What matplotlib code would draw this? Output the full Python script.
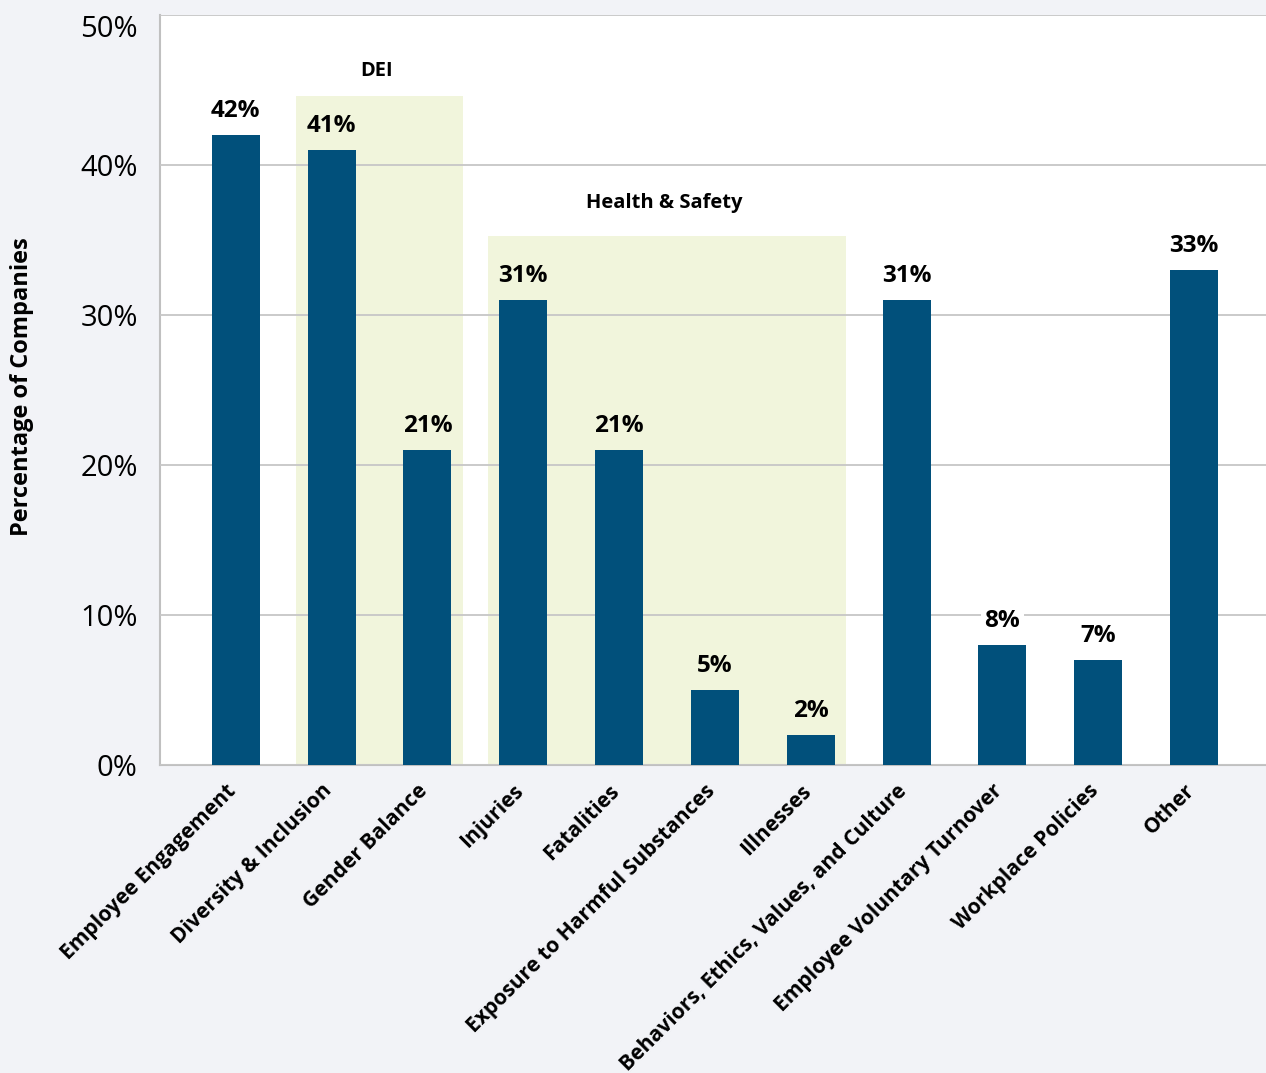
import matplotlib.pyplot as plt
import matplotlib.transforms as mtransforms
import numpy as np

plt.rcParams['font.family'] = ['Open Sans', 'DejaVu Sans']

categories = ['Employee Engagement', 'Diversity & Inclusion', 'Gender Balance',
              'Injuries', 'Fatalities', 'Exposure to Harmful Substances',
              'Illnesses', 'Behaviors, Ethics, Values, and Culture',
              'Employee Voluntary Turnover', 'Workplace Policies', 'Other']
values = [42, 41, 21, 31, 21, 5, 2, 31, 8, 7, 33]

# groups shaded behind the bars: (label, first index, last index, top of box, label height)
groups = [('DEI', 1, 2, 44.6, 46.3), ('Health & Safety', 3, 6, 35.3, 37.5)]

bar_color = '#01507b'
shade_color = '#f1f5dc'
bg_color = '#f2f3f7'
grid_color = '#c6c6c6'

fig = plt.figure(figsize=(12.66, 10.73), dpi=100, facecolor=bg_color)
ax = fig.add_axes([0.1264, 0.287, 0.8736, 0.699])
ax.set_facecolor('white')

x = np.arange(len(categories))

in_group = {}
for name, i0, i1, top, label_y in groups:
    ax.fill_between([i0 - 0.37, i1 + 0.37], 0, top, color=shade_color, lw=0, zorder=0)
    ax.text((i0 + i1) / 2 - 0.03, label_y, name, ha='center', va='center',
            fontsize=14.5, fontweight='bold', zorder=4)
    for i in range(i0, i1 + 1):
        in_group[i] = True

ax.bar(x, values, width=0.5, color=bar_color, zorder=3)

for i, v in enumerate(values):
    face = shade_color if in_group.get(i) else 'white'
    ax.annotate(f'{v}%', (i, v), xytext=(0, 17), textcoords='offset points',
                ha='center', va='center', fontsize=17.5, fontweight='bold', zorder=4,
                bbox=dict(boxstyle='square,pad=0.15', fc=face, ec='none'))

ax.set_ylim(0, 50)
ax.set_xlim(-0.79, 10.75)
ax.set_yticks([0, 10, 20, 30, 40, 50])
ax.set_yticklabels([f'{t}%' for t in range(0, 60, 10)], fontsize=21)
ax.get_yticklabels()[-1].set_va('top')
ax.yaxis.grid(True, color=grid_color, lw=1.3, zorder=1)
ax.set_axisbelow(False)

ax.set_xticks(x)
ax.set_xticklabels(categories, rotation=45, ha='right', rotation_mode='anchor',
                   fontsize=15.1, fontweight='bold')
ax.tick_params(axis='x', length=0, pad=11)
ax.tick_params(axis='y', length=0, pad=16)
shift = mtransforms.ScaledTranslation(-10 / 100, 0, fig.dpi_scale_trans)
for lbl in ax.get_xticklabels():
    lbl.set_transform(lbl.get_transform() + shift)

for side in ['top', 'right']:
    ax.spines[side].set_visible(False)
for side in ['left', 'bottom']:
    ax.spines[side].set_color('#c0c0c0')
    ax.spines[side].set_linewidth(1.5)

ax.set_ylabel('Percentage of Companies', fontsize=17, fontweight='bold')
ax.yaxis.set_label_coords(-0.114, 0.505)

fig.savefig('out.png', dpi=100, facecolor=bg_color)
